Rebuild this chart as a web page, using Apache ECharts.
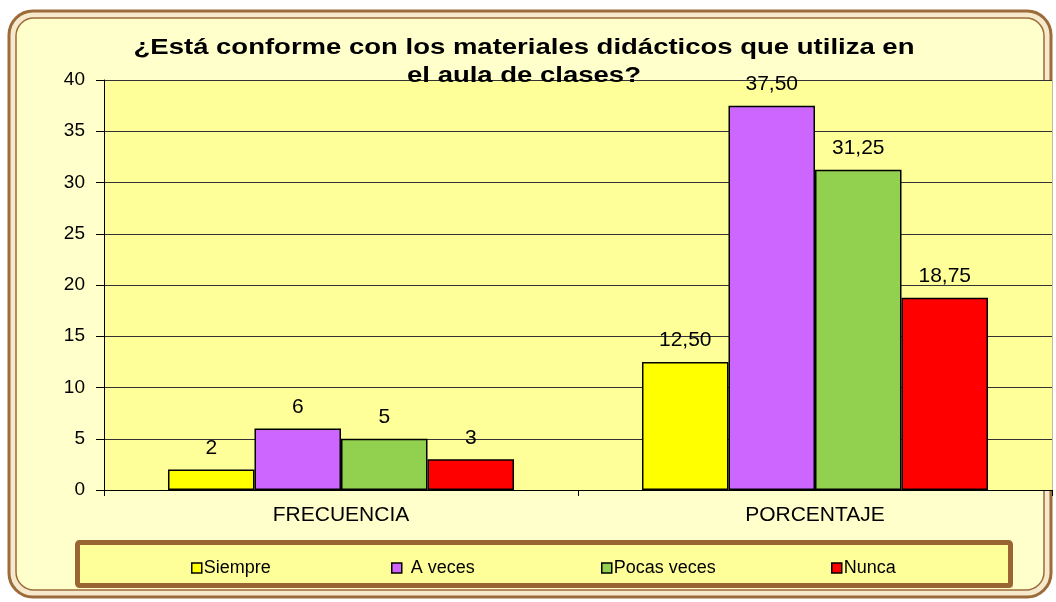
<!DOCTYPE html>
<html>
<head>
<meta charset="utf-8">
<script src="https://cdn.jsdelivr.net/npm/echarts@6/dist/echarts.min.js"></script>
<style>
  html, body { margin: 0; padding: 0; background: #fff; }
  #main { width: 1056px; height: 602px; }
</style>
</head>
<body>
<div id="main"></div>
<script>
// data
var categories = ['FRECUENCIA', 'PORCENTAJE'];
var seriesNames = ['Siempre', 'A veces', 'Pocas veces', 'Nunca'];
var siempre = [2, 12.5];
var aVeces = [6, 37.5];
var pocasVeces = [5, 31.25];
var nunca = [3, 18.75];
var colors = ['#FFFF00', '#CC66FF', '#92D050', '#FF0000'];
var legendLeft = [186, 386, 596, 826];
var FONT = 'Liberation Sans, Arial, sans-serif';

var chart = echarts.init(document.getElementById('main'));

var fmt = function (p) {
  if (p.dataIndex === 1) return p.value.toFixed(2).replace('.', ',');
  return String(p.value);
};

var allValues = [siempre, aVeces, pocasVeces, nunca];
var series = seriesNames.map(function (name, i) {
  return {
    name: name,
    type: 'bar',
    data: allValues[i],
    barGap: '0%',
    barCategoryGap: '27%',
    itemStyle: { color: colors[i], borderColor: '#000', borderWidth: 1.5 },
    label: {
      show: true, position: 'top', distance: 11,
      formatter: fmt,
      fontFamily: FONT, fontSize: 21, color: '#000'
    }
  };
});

var legends = seriesNames.map(function (name, i) {
  return {
    data: [name],
    left: legendLeft[i], top: 554,
    itemWidth: 10, itemHeight: 10, itemGap: 4,
    icon: 'rect',
    itemStyle: { borderColor: '#000', borderWidth: 1.5 },
    textStyle: { fontFamily: FONT, fontSize: 18, color: '#000', padding: [0, 0, 0, i === 1 ? 4 : -3] },
    selectedMode: false
  };
});

chart.setOption({
  animation: false,
  backgroundColor: '#fff',
  graphic: [
    { type: 'rect', z: -10, shape: { x: 9, y: 11, width: 1042, height: 586, r: 24 },
      style: { fill: '#F6E9CC', stroke: '#9C6B3A', lineWidth: 3 } },
    { type: 'rect', z: -9, shape: { x: 16, y: 18, width: 1028, height: 572, r: 18 },
      style: { fill: '#FFFFCC', stroke: '#9C6B3A', lineWidth: 1.5 } },
    { type: 'rect', z: -8, shape: { x: 80, y: 545, width: 933, height: 43, r: 2 },
      style: { fill: '#6b5030', opacity: 0.35 } },
    { type: 'rect', z: -7, shape: { x: 77.5, y: 542.5, width: 933, height: 43, r: 2 },
      style: { fill: '#FFFF99', stroke: '#996633', lineWidth: 5 } },
    { type: 'text', z: 100, x: 524, y: 34, scaleX: 1.25,
      style: {
        text: '¿Está conforme con los materiales didácticos que utiliza en\nel aula de clases?',
        font: 'bold 22px ' + FONT, fill: '#000', align: 'center', verticalAlign: 'top', lineHeight: 28
      } }
  ],
  legend: legends,
  grid: {
    left: 104, right: 4, top: 80, bottom: 112,
    show: true, backgroundColor: '#FFFF99', borderWidth: 0
  },
  xAxis: {
    type: 'category',
    data: categories,
    axisLine: { lineStyle: { color: '#000', width: 1 } },
    axisTick: { show: true, length: 6, lineStyle: { color: '#000' } },
    axisLabel: { fontFamily: FONT, fontSize: 21, color: '#000', margin: 15 }
  },
  yAxis: {
    type: 'value',
    min: 0, max: 40, interval: 5,
    axisLine: { show: true, lineStyle: { color: '#000', width: 1 } },
    axisTick: { show: true, length: 8, lineStyle: { color: '#000' } },
    axisLabel: { fontFamily: FONT, fontSize: 19, color: '#000', margin: 19 },
    splitLine: { lineStyle: { color: '#333', width: 1 } }
  },
  series: series
});
</script>
</body>
</html>
